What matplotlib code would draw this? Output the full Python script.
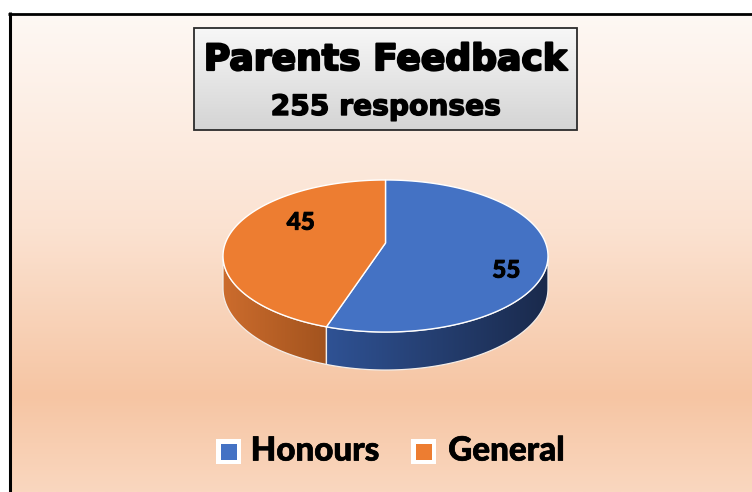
import numpy as np
import matplotlib
matplotlib.use('Agg')
import matplotlib.pyplot as plt
import matplotlib.patheffects as pe
from matplotlib.patches import Polygon, Rectangle
from matplotlib.colors import LinearSegmentedColormap

# ---------------- data ----------------
categories = ['Honours', 'General']
values = [55, 45]
top_colors = ['#4472C4', '#ED7D31']
side_colors = [('#2F5294', '#1A2A4C'), ('#CC6C2D', '#A2531E')]
title = 'Parents Feedback'
subtitle = '255 responses'

W, H = 752, 492
fig = plt.figure(figsize=(W / 100, H / 100), dpi=100)
ax = fig.add_axes([0, 0, 1, 1])
ax.set_xlim(0, W)
ax.set_ylim(H, 0)
ax.axis('off')
fig.patch.set_facecolor('white')

renderer = fig.canvas.get_renderer()


def fit_text(x, y, s, target_w, family, weight='bold', z=10, stroke=0.0, **kw):
    t = ax.text(x, y, s, ha='center', va='center', fontsize=20,
                family=family, weight=weight, zorder=z, **kw)
    bb = t.get_window_extent(renderer=renderer)
    t.set_fontsize(20 * (target_w - stroke * 100 / 72) / bb.width)
    if stroke > 0:
        t.set_path_effects([pe.withStroke(linewidth=stroke, foreground=t.get_color())])
    return t


# ---------------- background ----------------
stops = [(0.0, '#FEF8F4'), (0.45, '#FBE2D1'), (0.80, '#F6C5A3'), (1.0, '#FAD7BF')]
bg_cmap = LinearSegmentedColormap.from_list('bg', stops)
grad = np.linspace(0, 1, 256).reshape(-1, 1)
ax.imshow(grad, cmap=bg_cmap, extent=(10, W, H, 14), aspect='auto',
          origin='upper', zorder=0, interpolation='bilinear')
ax.plot([9.5, 9.5], [12, H], color='black', lw=2.2, solid_capstyle='butt', zorder=1)
ax.plot([8, W], [13.6, 13.6], color='black', lw=2.0, solid_capstyle='butt', zorder=1)

# ---------------- title box ----------------
bx0, bx1, by0, by1 = 194, 577, 28, 130
gray = LinearSegmentedColormap.from_list('g', ['#F7F7F7', '#D4D4D4'])
ax.imshow(grad, cmap=gray, extent=(bx0, bx1, by1, by0), aspect='auto',
          origin='upper', zorder=4, interpolation='bilinear')
ax.add_patch(Rectangle((bx0, by0), bx1 - bx0, by1 - by0, fill=False,
                       edgecolor='#2b2b2b', lw=1.3, zorder=5))
fit_text(385.5, 60, title, 365, 'DejaVu Sans', weight='heavy', stroke=1.6)
fit_text(386, 107, subtitle, 232, 'DejaVu Sans', weight='heavy', stroke=1.0)

# ---------------- 3D pie (perspective projection of a tilted disc) ----------------
cx, cy0 = 385.5, 243.0      # projected disc centre
kx, ky = 160.1, 73.8        # horizontal / depth scale of the disc
persp = 0.171               # perspective strength
thick = 31.5                # disc thickness (before perspective)


def proj(theta_deg, frac=1.0):
    th = np.radians(theta_deg)
    X, Y = frac * np.sin(th), frac * np.cos(th)
    w = 1.0 + persp * Y
    return cx + kx * X / w, cy0 - ky * Y / w, thick / w


total = float(sum(values))
bounds = np.concatenate([[0], np.cumsum(values) / total * 360.0])
th_e = np.degrees(np.arccos(-persp))          # silhouette angles
vis_lo, vis_hi = th_e, 360 - th_e

# sides
for i in range(len(values)):
    a1, a2 = max(bounds[i], vis_lo), min(bounds[i + 1], vis_hi)
    if a2 <= a1:
        continue
    th = np.linspace(a1, a2, 150)
    xs, ys, ds = proj(th)
    pts = np.vstack([np.column_stack([xs, ys]),
                     np.column_stack([xs[::-1], (ys + ds)[::-1]])])
    poly = Polygon(pts, closed=True, facecolor='none', edgecolor='none', zorder=2)
    ax.add_patch(poly)
    c0, c1 = side_colors[i]
    cm = LinearSegmentedColormap.from_list('s%d' % i, [c0, c1])
    xg = np.linspace(0, 1, 256).reshape(1, -1)
    im = ax.imshow(xg, cmap=cm, extent=(xs.min(), xs.max(), (ys + ds).max(), ys.min()),
                   aspect='auto', origin='upper', zorder=2, interpolation='bilinear')
    im.set_clip_path(poly)
    ax.add_patch(Polygon(pts, closed=True, facecolor='none',
                         edgecolor='#F4EDE8', lw=0.9, zorder=2.5))

# top faces
for i in range(len(values)):
    th = np.linspace(bounds[i], bounds[i + 1], 200)
    xs, ys, _ = proj(th)
    pts = np.vstack([[cx, cy0], np.column_stack([xs, ys])])
    ax.add_patch(Polygon(pts, closed=True, facecolor=top_colors[i],
                         edgecolor='white', lw=1.0, joinstyle='round', zorder=3))

# value labels
label_shift = [(0.79, 17), (0.63, 19)]   # (radial fraction, angular shift deg)
for i, v in enumerate(values):
    mid = (bounds[i] + bounds[i + 1]) / 2 + label_shift[i][1]
    lx, ly, _ = proj(mid, label_shift[i][0])
    fit_text(lx, ly, str(v), 29, 'Lato', weight='black', stroke=0.6)

# ---------------- legend ----------------
leg_x = [216, 411]
for i, name in enumerate(categories):
    x0 = leg_x[i]
    ax.add_patch(Rectangle((x0, 439), 25, 25, facecolor='white', edgecolor='none', zorder=6))
    ax.add_patch(Rectangle((x0 + 4.5, 443.5), 16, 16, facecolor=top_colors[i],
                           edgecolor='none', zorder=7))
leg_w = [130, 117]
leg_cx = [315, 506.5]
for i, name in enumerate(categories):
    fit_text(leg_cx[i], 451, name, leg_w[i], 'Lato', weight='black', stroke=0.5)

fig.savefig('out.png', dpi=100, facecolor='white')
